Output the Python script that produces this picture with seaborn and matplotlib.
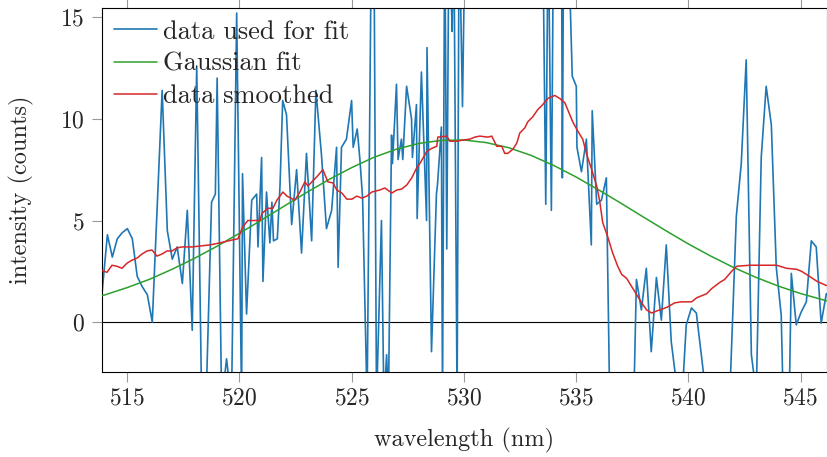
import numpy as np
import pandas as pd
import matplotlib
matplotlib.use("Agg")
import matplotlib.pyplot as plt
import seaborn as sns

# ---- data ----
data_wl = [513.88, 514.12, 514.34, 514.56, 514.78, 515.01, 515.23, 515.45, 515.67, 515.90,
           516.12, 516.34, 516.56, 516.79, 517.01, 517.23, 517.46, 517.68, 517.90, 518.10,
           518.32, 518.54, 518.76, 518.93, 519.01, 519.21, 519.43, 519.65, 519.88, 520.10,
           520.14, 520.32, 520.55, 520.77, 520.83, 520.99, 521.05, 521.21, 521.36, 521.45,
           521.52, 521.69, 521.81, 521.93, 522.10, 522.33, 522.55, 522.77, 522.99, 523.22,
           523.41, 523.66, 523.88, 524.11, 524.33, 524.40, 524.55, 524.77, 525.00, 525.07,
           525.25, 525.37, 525.49, 525.69, 525.89, 525.99, 526.11, 526.33, 526.44, 526.56,
           526.64, 526.78, 526.82, 527.00, 527.07, 527.22, 527.28, 527.45, 527.67, 527.71,
           527.89, 527.92, 528.11, 528.34, 528.36, 528.56, 528.78, 528.83, 529.00, 529.05,
           529.15, 529.24, 529.34, 529.48, 529.55, 529.70, 529.79, 529.94, 530.09, 530.49,
           530.93, 531.38, 531.82, 532.27, 532.71, 533.16, 533.51, 533.65, 533.76, 533.90,
           534.00, 534.35, 534.39, 534.45, 534.63, 534.83, 535.01, 535.04, 535.24, 535.46,
           535.68, 535.72, 535.92, 536.13, 536.35, 536.50, 536.94, 537.57, 537.69, 537.91,
           538.13, 538.35, 538.58, 538.80, 539.02, 539.24, 539.47, 539.76, 539.91, 540.14,
           540.36, 540.73, 541.17, 541.87, 542.14, 542.36, 542.58, 542.81, 543.03, 543.25,
           543.47, 543.70, 543.92, 544.14, 544.21, 544.51, 544.59, 544.81, 545.03, 545.26,
           545.48, 545.70, 545.92, 546.15]
data_counts = [1.4, 4.3, 3.2, 4.1, 4.4, 4.6, 4.1, 2.25, 1.75, 1.35,
               0.0, 5.7, 11.4, 4.5, 3.1, 3.7, 1.9, 5.5, -0.4, 12.6,
               -4.0, -3.0, 5.9, 6.3, 12.0, -4.0, -1.8, -4.0, 15.2, -4.0,
               7.3, 0.4, 6.0, 6.3, 3.7, 8.1, 2.0, 6.4, 3.9, 5.9,
               4.0, 4.1, 6.7, 10.9, 10.2, 4.8, 7.5, 3.4, 8.3, 4.0,
               11.4, 8.2, 4.6, 5.5, 8.6, 2.7, 8.6, 9.0, 10.9, 8.6,
               9.5, 8.0, 6.1, -4.0, 20.0, 20.0, -4.0, 5.0, -4.0, -1.6,
               -4.0, 9.2, 7.8, 11.7, 8.0, 9.0, 8.0, 11.6, 10.0, 8.1,
               10.7, 5.1, 12.3, 5.0, 13.5, -1.45, 6.3, 6.8, 9.6, -4.0,
               20.0, 3.6, 20.0, 14.3, 20.0, -4.0, 20.0, 10.6, 22.0, 24.0,
               26.0, 28.0, 27.0, 25.0, 24.0, 22.0, 20.0, 5.8, 20.0, 5.5,
               20.0, 20.0, 7.1, 20.0, 20.0, 12.1, 11.6, 8.6, 7.4, 9.0,
               3.8, 10.4, 5.8, 6.0, 7.1, -4.0, -5.0, -4.0, 2.1, 0.6,
               2.65, -1.45, 2.2, 0.1, 3.8, -0.95, -3.0, -3.0, -0.13, 0.7,
               0.45, -3.0, -5.0, -3.0, 5.2, 7.8, 12.9, -1.6, -3.5, 8.1,
               11.6, 9.7, 2.7, 0.35, -3.0, -3.0, 2.4, -0.13, 0.5, 1.0,
               4.0, 3.7, -0.05, 1.4]

fit_wl = [513.88, 514, 515, 516, 517, 518, 519, 520, 521, 522, 523, 524, 525, 526, 527,
          528, 529, 530, 531, 532, 533, 534, 535, 536, 537, 538, 539, 540, 541, 542,
          543, 544, 545, 546, 546.16]
fit_counts = [1.30, 1.34, 1.70, 2.11, 2.60, 3.14, 3.73, 4.37, 5.03, 5.71, 6.38, 7.02, 7.60,
              8.11, 8.51, 8.79, 8.94, 8.96, 8.83, 8.58, 8.20, 7.71, 7.14, 6.51, 5.85, 5.17,
              4.50, 3.85, 3.25, 2.70, 2.21, 1.78, 1.41, 1.10, 1.05]

smooth_wl = [513.880, 514.103, 514.325, 514.548, 514.770, 514.993, 515.216, 515.438, 515.661,
             515.884, 516.106, 516.329, 516.551, 516.774, 516.997, 517.219, 517.442, 517.887,
             518.689, 519.134, 519.713, 519.935, 520.158, 520.381, 520.915, 521.004, 521.271,
             521.494, 521.672, 521.939, 522.117, 522.473, 522.696, 522.918, 523.052, 523.230,
             523.453, 523.720, 523.942, 524.165, 524.343, 524.566, 524.788, 525.011, 525.234,
             525.456, 525.679, 525.901, 526.258, 526.480, 526.792, 527.015, 527.237, 527.460,
             527.682, 527.905, 528.039, 528.172, 528.350, 528.573, 528.795, 528.840, 529.241,
             529.374, 529.730, 529.909, 530.265, 530.488, 530.711, 531.067, 531.244, 531.467,
             531.690, 531.823, 531.957, 532.180, 532.358, 532.492, 532.714, 532.848, 533.071,
             533.293, 533.516, 533.739, 534.051, 534.272, 534.495, 534.629, 534.852, 535.074,
             535.297, 535.474, 535.697, 535.920, 536.054, 536.187, 536.410, 536.632, 536.855,
             537.033, 537.256, 537.478, 537.701, 537.924, 538.146, 538.369, 538.592, 538.859,
             539.081, 539.393, 539.705, 540.150, 540.373, 540.818, 541.040, 541.397, 541.619,
             541.931, 542.154, 542.733, 543.623, 543.935, 544.380, 544.825, 545.048, 545.404,
             545.747, 546.161]
smooth_counts = [2.55, 2.45, 2.8, 2.75, 2.65, 2.9, 3.05, 3.15, 3.35,
                 3.5, 3.55, 3.25, 3.35, 3.5, 3.5, 3.65, 3.7, 3.7,
                 3.8, 3.9, 4.05, 4.1, 4.7, 5.0, 5.0, 5.35, 5.6,
                 5.6, 6.0, 6.4, 6.2, 6.0, 6.4, 6.9, 6.7, 6.9,
                 7.15, 7.5, 6.9, 6.85, 6.5, 6.35, 6.05, 6.05, 6.2,
                 6.1, 6.2, 6.4, 6.5, 6.6, 6.35, 6.5, 6.55, 6.75,
                 7.1, 7.6, 7.8, 8.05, 8.4, 8.55, 8.65, 9.1, 9.15,
                 8.9, 8.9, 8.95, 9.0, 9.1, 9.15, 9.1, 9.15, 8.65,
                 8.65, 8.3, 8.3, 8.5, 8.8, 9.3, 9.55, 9.85, 10.1,
                 10.45, 10.7, 11.0, 11.15, 11.0, 10.8, 10.45, 9.85, 9.4,
                 9.0, 8.25, 7.5, 6.7, 5.95, 4.9, 4.2, 3.4, 2.75,
                 2.35, 2.15, 1.75, 1.35, 0.95, 0.6, 0.45, 0.55, 0.65,
                 0.75, 0.95, 1.0, 1.0, 1.2, 1.4, 1.65, 1.95, 2.1,
                 2.5, 2.75, 2.8, 2.8, 2.8, 2.65, 2.6, 2.5, 2.25,
                 2.0, 1.8]

x_ticks = [515, 520, 525, 530, 535, 540, 545]
y_ticks = [0, 5, 10, 15]
x_label = "wavelength (nm)"
y_label = "intensity (counts)"
labels = ["data used for fit", "Gaussian fit", "data smoothed"]
colors = ["#1f77b4", "#2ca02c", "#d62728"]

# ---- styling ----
sns.set_style("ticks")
plt.rcParams["font.family"] = ["cmr10", "DejaVu Serif"]
plt.rcParams["axes.formatter.use_mathtext"] = True
plt.rcParams["axes.unicode_minus"] = False

fig = plt.figure(figsize=(8.28, 4.57), dpi=100)
ax = fig.add_axes([102 / 828, (457 - 372) / 457, 725 / 828, 364 / 457])

df_data = pd.DataFrame({"wl": data_wl, "counts": data_counts})
df_fit = pd.DataFrame({"wl": fit_wl, "counts": fit_counts})
df_smooth = pd.DataFrame({"wl": smooth_wl, "counts": smooth_counts})

ax.axhline(0, color="black", lw=0.8, zorder=1)
sns.lineplot(data=df_data, x="wl", y="counts", ax=ax, color=colors[0], lw=1.2,
             estimator=None, sort=False, label=labels[0], zorder=2)
sns.lineplot(data=df_fit, x="wl", y="counts", ax=ax, color=colors[1], lw=1.1,
             estimator=None, sort=False, label=labels[1], zorder=3)
sns.lineplot(data=df_smooth, x="wl", y="counts", ax=ax, color=colors[2], lw=1.1,
             estimator=None, sort=False, label=labels[2], zorder=4)

ax.set_xlim(513.88, 546.18)
ax.set_ylim(-2.45, 15.45)
ax.set_xticks(x_ticks)
ax.set_yticks(y_ticks)
ax.set_xlabel(x_label, fontsize=17.5, labelpad=13)
ax.set_ylabel(y_label, fontsize=17.5)
ax.yaxis.set_label_coords(-0.094, 0.5)
ax.tick_params(axis="both", which="both", direction="out", length=7, width=0.8,
               color="#999999", labelsize=17, top=True, right=True, pad=4)
ax.tick_params(axis="y", pad=5.5)
for side in ["top", "bottom", "left", "right"]:
    ax.spines[side].set_visible(True)
    ax.spines[side].set_color("black")
    ax.spines[side].set_linewidth(0.8)

leg = ax.legend(loc="upper left", frameon=False, fontsize=19, handlelength=1.63,
                handletextpad=0.22, labelspacing=0.32, borderaxespad=0.1,
                borderpad=0.35)

fig.savefig("out.png", dpi=100)
